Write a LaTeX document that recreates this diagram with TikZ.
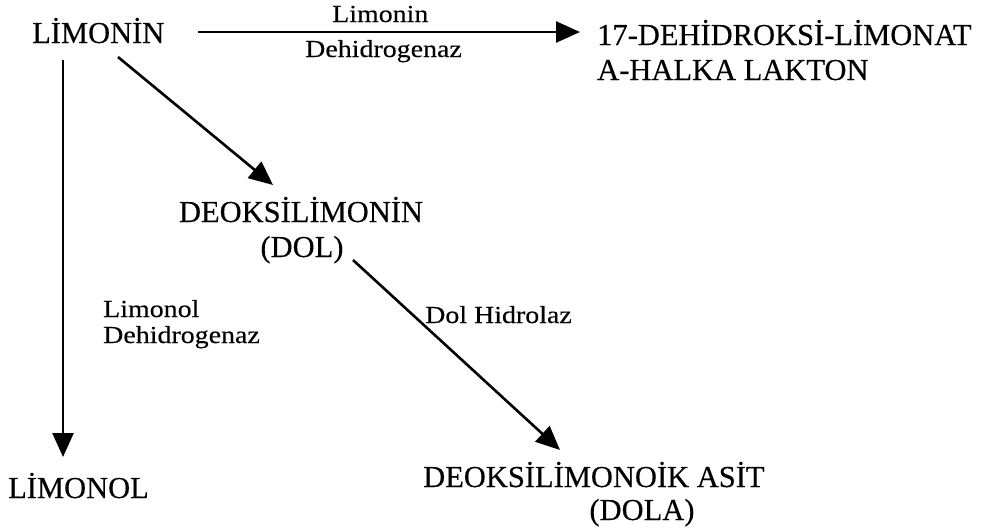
\documentclass[tikz,border=0pt]{standalone}
\usepackage{fontspec}
\setmainfont[FakeBold=0.3]{Liberation Serif}
\newfontfamily\bigfont[FakeBold=0.3]{Liberation Serif}
\newfontfamily\lblfont[FakeStretch=1.14,FakeBold=0.25]{Liberation Serif}
\usetikzlibrary{arrows.meta}
\begin{document}
\begin{tikzpicture}[x=1pt,y=-1pt,
  big/.style={inner sep=0pt,font=\bigfont\fontsize{30.5}{35}\selectfont},
  lbl/.style={inner sep=0pt,font=\lblfont\fontsize{24.5}{28}\selectfont},
  arr/.style={line width=2.6pt,-{Triangle[length=24pt,width=21pt]}}]
\useasboundingbox (0,0) rectangle (996,531);
% main compounds
\node[big,anchor=base west] (limonin) at (32,43) {LİMONİN};
\node[big,anchor=base west] (prodA) at (597,45) {17-DEHİDROKSİ-LİMONAT};
\node[big,anchor=base west] (prodB) at (597,80) {A-HALKA LAKTON};
\node[big,anchor=base] (dol) at (301,222) {DEOKSİLİMONİN};
\node[big,anchor=base] (dolb) at (302,257) {(DOL)};
\node[big,anchor=base west] (limonol) at (8,498) {LİMONOL};
\node[big,anchor=base west] (dola) at (423,487) {DEOKSİLİMONOİK ASİT};
\node[big,anchor=base] (dolab) at (642,520) {(DOLA)};
% enzyme labels
\node[lbl,anchor=base west] (e1a) at (332,22) {Limonin};
\node[lbl,anchor=base west] (e1b) at (305,57) {Dehidrogenaz};
\node[lbl,anchor=base west] (e2a) at (103,317) {Limonol};
\node[lbl,anchor=base west] (e2b) at (103,343) {Dehidrogenaz};
\node[lbl,anchor=base west] (e3) at (425,323) {Dol Hidrolaz};
% connectors
\draw[arr] ([shift={(33,-11)}]limonin.base east) -- ([shift={(-17,-13)}]prodA.base west);
\draw[arr] ([shift={(31,17)}]limonin.base west) -- ([shift={(55,-41)}]limonol.base west);
\draw[arr] ([shift={(86,14)}]limonin.base west) -- ([shift={(-28,-37)}]dol.base);
\draw[arr] ([shift={(51,3)}]dolb.base) -- ([shift={(137,-37)}]dola.base west);
\end{tikzpicture}
\end{document}
